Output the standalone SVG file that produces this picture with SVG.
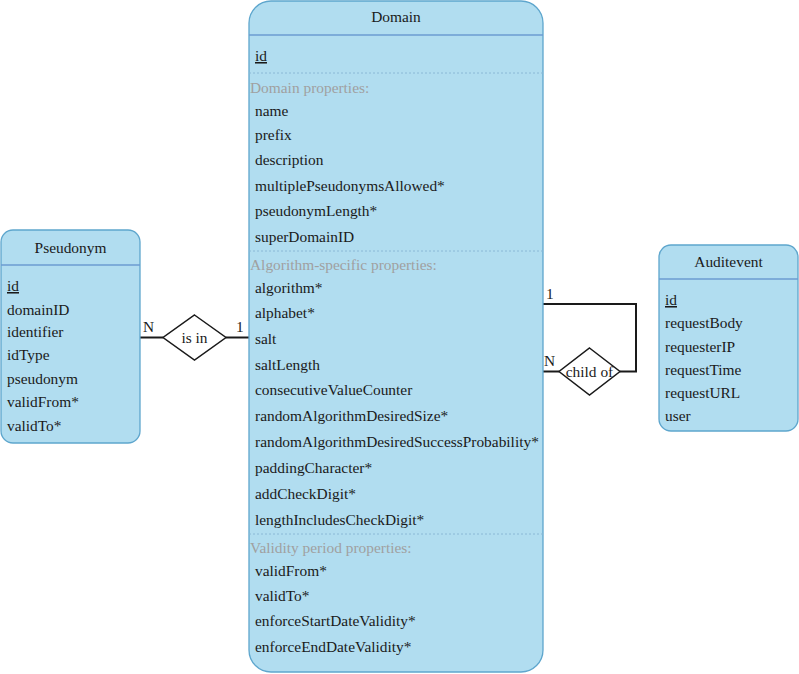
<svg xmlns="http://www.w3.org/2000/svg" width="799" height="674" viewBox="0 0 799 674">
<style>
.box{fill:#b1ddf0;stroke:#5ea6cd;stroke-width:1.3}
.hdr{stroke:#6c9bd2;stroke-width:1.3}
.sep{stroke:#8ab8d6;stroke-width:1;stroke-dasharray:2 2}
text{font-family:"Liberation Serif","Times New Roman",serif;font-size:15.4px;fill:#1a1a1a}
.t{text-anchor:middle}
.g{fill:#a0a0a0}
.u{text-decoration:underline}
.ln{fill:none;stroke:#1a1a1a;stroke-width:2}
.dm{fill:#ffffff;stroke:#1a1a1a;stroke-width:1.5}
</style>
<rect width="799" height="674" fill="#ffffff"/>
<g id="connectors">
<path class="ln" d="M140 337.5 H163"/>
<path class="ln" d="M226 337.5 H249"/>
<path class="ln" d="M543 304 H636 V371.5 H620"/>
<path class="ln" d="M543 371.5 H559"/>
<text x="143" y="332">N</text>
<text x="236" y="332">1</text>
<text x="546" y="299">1</text>
<text x="544" y="366">N</text>
</g>
<g id="isin">
<polygon class="dm" points="194.5,315 226,337.5 194.5,360 163,337.5"/>
<text class="t" x="194.5" y="342.5">is in</text>
</g>
<g id="childof">
<polygon class="dm" points="589.5,348 620,371.5 589.5,395 559,371.5"/>
<text class="t" x="589.5" y="376.5">child of</text>
</g>
<g id="domain">
<rect class="box" x="249" y="1" width="294" height="671" rx="22" ry="22"/>
<line class="hdr" x1="249" y1="35" x2="543" y2="35"/>
<text class="t" x="396" y="22">Domain</text>
<text class="u" x="255" y="61">id</text>
<line class="sep" x1="249" y1="73" x2="543" y2="73"/>
<text class="g" x="250" y="93">Domain properties:</text>
<text x="255" y="116">name</text>
<text x="255" y="140">prefix</text>
<text x="255" y="165">description</text>
<text x="255" y="191">multiplePseudonymsAllowed*</text>
<text x="255" y="216">pseudonymLength*</text>
<text x="255" y="242">superDomainID</text>
<line class="sep" x1="249" y1="251" x2="543" y2="251"/>
<text class="g" x="250" y="270">Algorithm-specific properties:</text>
<text x="255" y="293">algorithm*</text>
<text x="255" y="318">alphabet*</text>
<text x="255" y="344">salt</text>
<text x="255" y="370">saltLength</text>
<text x="255" y="395">consecutiveValueCounter</text>
<text x="255" y="421">randomAlgorithmDesiredSize*</text>
<text x="255" y="447">randomAlgorithmDesiredSuccessProbability*</text>
<text x="255" y="473">paddingCharacter*</text>
<text x="255" y="499">addCheckDigit*</text>
<text x="255" y="525">lengthIncludesCheckDigit*</text>
<line class="sep" x1="249" y1="534" x2="543" y2="534"/>
<text class="g" x="250" y="553">Validity period properties:</text>
<text x="255" y="576">validFrom*</text>
<text x="255" y="601">validTo*</text>
<text x="255" y="626">enforceStartDateValidity*</text>
<text x="255" y="652">enforceEndDateValidity*</text>
</g>
<g id="pseudonym">
<rect class="box" x="1" y="230" width="139" height="213" rx="12" ry="12"/>
<line class="hdr" x1="1" y1="265" x2="140" y2="265"/>
<text class="t" x="70.5" y="253">Pseudonym</text>
<text class="u" x="7" y="291">id</text>
<text x="7" y="315">domainID</text>
<text x="7" y="337">identifier</text>
<text x="7" y="360">idType</text>
<text x="7" y="384">pseudonym</text>
<text x="7" y="407">validFrom*</text>
<text x="7" y="431">validTo*</text>
</g>
<g id="auditevent">
<rect class="box" x="659" y="245" width="139" height="186" rx="12" ry="12"/>
<line class="hdr" x1="659" y1="279" x2="798" y2="279"/>
<text class="t" x="728.5" y="267">Auditevent</text>
<text class="u" x="665" y="305">id</text>
<text x="665" y="328">requestBody</text>
<text x="665" y="352">requesterIP</text>
<text x="665" y="375">requestTime</text>
<text x="665" y="398">requestURL</text>
<text x="665" y="421">user</text>
</g>
</svg>
